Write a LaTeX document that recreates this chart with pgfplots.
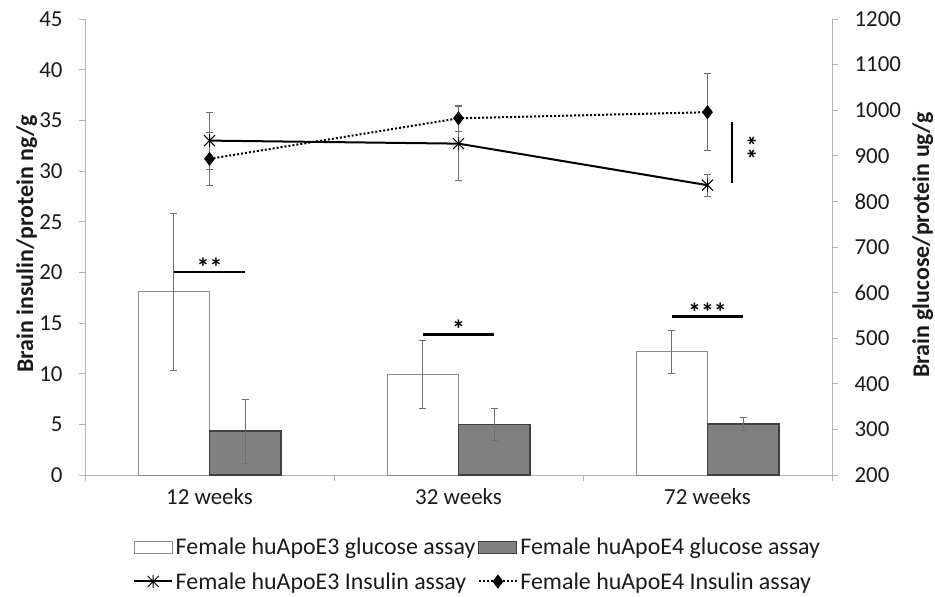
\documentclass[border=0pt]{standalone}
\usepackage{fontspec}
\setmainfont{Carlito}
\usepackage{pgfplots}
\pgfplotsset{compat=1.18}
\usepackage{pgfplotstable}

\definecolor{axisgray}{HTML}{B4B4B4}
\definecolor{errgray}{HTML}{6E6E6E}
\definecolor{barEfour}{HTML}{808080}
\definecolor{edgeEthree}{HTML}{8C8C8C}
\definecolor{edgeEfour}{HTML}{404040}
\definecolor{txt}{HTML}{1A1A1A}

\pgfdeclareplotmark{xstar}{%
  \pgfpathmoveto{\pgfqpoint{-\pgfplotmarksize}{-\pgfplotmarksize}}%
  \pgfpathlineto{\pgfqpoint{\pgfplotmarksize}{\pgfplotmarksize}}%
  \pgfpathmoveto{\pgfqpoint{-\pgfplotmarksize}{\pgfplotmarksize}}%
  \pgfpathlineto{\pgfqpoint{\pgfplotmarksize}{-\pgfplotmarksize}}%
  \pgfpathmoveto{\pgfqpoint{0pt}{-1.15\pgfplotmarksize}}%
  \pgfpathlineto{\pgfqpoint{0pt}{1.15\pgfplotmarksize}}%
  \pgfusepathqstroke}

% glucose (right axis, ug/g)
\pgfplotstableread{
x y err
0 601.5 171.2
1 420.0 74.7
2 470.4 47.5
}\barsEthree
\pgfplotstableread{
x y err
0 296.4 70.2
1 311.0 35.1
2 311.8 13.5
}\barsEfour
% insulin (left axis, ng/g)
\pgfplotstableread{
x y err
0 33.0 2.80
1 32.7 3.65
2 28.6 1.10
}\insEthree
\pgfplotstableread{
x y err
0 31.2 2.65
1 35.2 1.30
2 35.8 3.80
}\insEfour

\newcommand{\fs}{\fontsize{23}{27}\selectfont}
\newcommand{\fl}{\fontsize{24}{28}\selectfont}
\newcommand{\fa}{\fontsize{26}{30}\selectfont\bfseries}

\pgfplotsset{
  common/.style={
    at={(85bp,122bp)}, anchor=south west,
    scale only axis, width=747bp, height=456bp,
    xmin=-0.5, xmax=2.5,
    axis line style={axisgray, line width=0.9bp},
    tick style={axisgray, line width=0.9bp},
    tick align=outside,
    major tick length=6bp, minor tick length=6bp,
    tick label style={font=\fs, text=txt},
    /pgf/number format/assume math mode=true,
    /pgf/number format/1000 sep={},
    clip=false,
  },
  ebar/.style={
    error bars/y dir=both, error bars/y explicit,
    error bars/error bar style={errgray, line width=0.9bp, solid},
    error bars/error mark options={rotate=90, errgray, mark size=3.5bp, line width=0.9bp, solid},
  },
  lineleg/.style={
    legend image code/.code={\draw[mark repeat=2, mark phase=2, ##1] plot coordinates {(0bp,0bp) (19bp,0bp) (38bp,0bp)};}},
  boxlegthree/.style={
    legend image code/.code={\draw[fill=white, draw=edgeEthree, line width=0.9bp] (0bp,-6bp) rectangle (38bp,6bp);}},
  boxlegfour/.style={
    legend image code/.code={\draw[fill=barEfour, draw=edgeEfour, line width=1.1bp] (0bp,-6bp) rectangle (38bp,6bp);}},
}

\begin{document}
\begin{tikzpicture}
\path[use as bounding box] (0,0) rectangle (935bp,597bp);

% bars: glucose, right axis
\begin{axis}[common,
  ymin=200, ymax=1200,
  axis y line*=right, axis x line*=bottom,
  ytick={200,300,...,1200},
  xtick={0,1,2}, xticklabels={12 weeks,32 weeks,72 weeks},
  major x tick style={draw=none},
  minor xtick={-0.5,0.5,1.5,2.5},
  yticklabel style={xshift=13bp},
  xticklabel style={yshift=-4bp},
  ybar=0pt, bar width=0.287,
]
\addplot[fill=white, draw=edgeEthree, line width=0.9bp, ebar] table[x=x, y=y, y error=err]{\barsEthree};
\addplot[fill=barEfour, draw=edgeEfour, line width=1.1bp, ebar] table[x=x, y=y, y error=err]{\barsEfour};
\end{axis}

% lines: insulin, left axis
\begin{axis}[common,
  ymin=0, ymax=45,
  axis y line*=left, axis x line=none,
  ytick={0,5,...,45},
  yticklabel style={xshift=-13bp},
  legend columns=2,
  legend cell align=left,
  legend style={at={(axis description cs:0.0643,-0.133)}, anchor=north west,
    draw=none, fill=none, inner sep=0pt, font=\fl, text=txt,
    nodes={inner sep=2.5bp},
    row sep=11bp,
    /tikz/every even column/.append style={column sep=0bp}},
]
\addlegendimage{boxlegthree}
\addlegendimage{boxlegfour}

\addplot[black, line width=2bp, mark=xstar, mark size=5.5bp, mark options={solid, line width=1bp},
  lineleg, ebar]
  table[x=x, y=y, y error=err]{\insEthree};
\addplot[black, line width=2bp, dash pattern=on 2bp off 2bp, mark=diamond*, mark size=5.5bp, mark options={solid},
  lineleg, ebar]
  table[x=x, y=y, y error=err]{\insEfour};

\legend{Female huApoE3 glucose assay, Female huApoE4 glucose assay, Female huApoE3 Insulin assay, Female huApoE4 Insulin assay}

% significance marks
\addplot[black, line width=2.5bp, forget plot] coordinates {(-0.1436,20.04) (0.1436,20.04)};
\addplot[black, line width=2.5bp, forget plot] coordinates {(0.8564,13.88) (1.1436,13.88)};
\addplot[black, line width=2.5bp, forget plot] coordinates {(1.8564,15.62) (2.1436,15.62)};
\addplot[black, line width=2.5bp, forget plot] coordinates {(2.098,28.82) (2.098,34.84)};
\node[font=\fa, anchor=base, inner sep=0pt] at (axis cs:0,19.6) {**};
\node[font=\fa, anchor=base, inner sep=0pt] at (axis cs:1,13.47) {*};
\node[font=\fa, anchor=base, inner sep=0pt] at (axis cs:2,15.18) {***};
\node[font=\fa, anchor=base, inner sep=0pt, rotate=-90] at (axis cs:2.12,32.3) {**};
\end{axis}

\node[font=\fl\bfseries, text=txt, rotate=90, anchor=base] at (33bp,353bp) {Brain insulin/protein ng/g};
\node[font=\fl\bfseries, text=txt, rotate=90, anchor=base] at (929bp,352bp) {Brain glucose/protein ug/g};
\end{tikzpicture}
\end{document}
